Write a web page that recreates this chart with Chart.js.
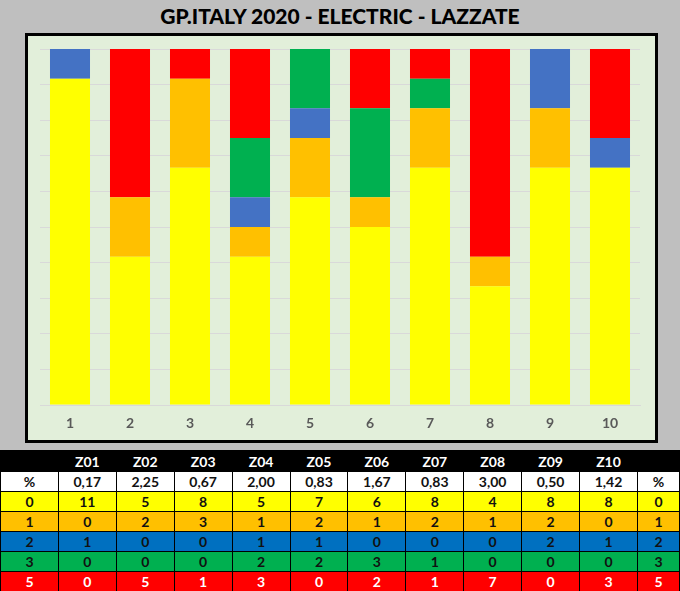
<!DOCTYPE html>
<html>
<head>
<meta charset="utf-8">
<script src="https://cdn.jsdelivr.net/npm/chart.js@4/dist/chart.umd.min.js"></script>
<style>
  html,body{margin:0;padding:0;}
  body{width:680px;height:591px;background:#BFBFBF;position:relative;overflow:hidden;font-family:Lato,"Open Sans",sans-serif;}
  #title{position:absolute;left:0;top:3px;width:680px;text-align:center;font-weight:900;font-size:21px;color:#000;}
  #box{position:absolute;left:25px;top:33px;width:627px;height:404px;border:3px solid #000;background:#E2EFDA;}
  #box canvas{display:block;}
  table{position:absolute;left:0;top:450px;border-collapse:collapse;table-layout:fixed;font-weight:bold;font-size:14px;}
  td{height:19px;padding:0;text-align:center;border:1px solid #000;color:#111;line-height:19px;}
  tr.hdr td{background:#000;color:#fff;border-color:#000;height:20px;}
</style>
</head>
<body>
<div id="title">GP.ITALY 2020 - ELECTRIC - LAZZATE</div>
<div id="box"><canvas id="c" width="627" height="404"></canvas></div>
<table id="tbl"></table>
<script>
const zones = ["Z01","Z02","Z03","Z04","Z05","Z06","Z07","Z08","Z09","Z10"];
const xLabels = ["1","2","3","4","5","6","7","8","9","10"];
const pctValues = ["0,17","2,25","0,67","2,00","0,83","1,67","0,83","3,00","0,50","1,42"];
const score0 = [11,5,8,5,7,6,8,4,8,8];
const score1 = [0,2,3,1,2,1,2,1,2,0];
const score2 = [1,0,0,1,1,0,0,0,2,1];
const score3 = [0,0,0,2,2,3,1,0,0,0];
const score5 = [0,5,1,3,0,2,1,7,0,3];

const rows = [
  {label:"0", data:score0, bar:"#FFFF00", cell:"#FFFF00", text:"#111"},
  {label:"1", data:score1, bar:"#FFC000", cell:"#FFC000", text:"#111"},
  {label:"2", data:score2, bar:"#4472C4", cell:"#0070C0", text:"#111"},
  {label:"3", data:score3, bar:"#00B050", cell:"#00B050", text:"#111"},
  {label:"5", data:score5, bar:"#FF0000", cell:"#FF0000", text:"#fff"}
];

const totals = zones.map((z,i)=>rows.reduce((s,r)=>s+r.data[i],0));

new Chart(document.getElementById('c'), {
  type:'bar',
  data:{
    labels:xLabels,
    datasets:rows.map(r=>({
      label:r.label,
      data:r.data.map((v,i)=>v/totals[i]*100),
      backgroundColor:r.bar,
      borderWidth:0,
      barPercentage:0.667,
      categoryPercentage:1.0
    }))
  },
  options:{
    responsive:false,
    animation:false,
    devicePixelRatio:1,
    layout:{padding:{left:12,right:15,top:13,bottom:0}},
    plugins:{legend:{display:false},tooltip:{enabled:false}},
    scales:{
      x:{
        stacked:true,
        grid:{display:false},
        border:{display:true,color:'#D9D9D9',width:1},
        ticks:{color:'#595959',font:{family:'Lato',size:14,weight:'bold'},padding:2},
        afterFit(s){s.height=35;}
      },
      y:{
        stacked:true,min:0,max:100,
        ticks:{display:false,stepSize:10},
        grid:{color:'#D9D9D9',drawTicks:false,lineWidth:1},
        border:{display:false},
        afterFit(s){s.width=0;}
      }
    }
  }
});

const tbl = document.getElementById('tbl');
const widths = [58,58,58,58,58,58,58,58,58,58,58,42];
let html = '<colgroup>'+widths.map(w=>`<col style="width:${w}px">`).join('')+'</colgroup>';
html += '<tr class="hdr"><td></td>'+zones.map(z=>`<td>${z}</td>`).join('')+'<td></td></tr>';
html += '<tr><td style="background:#fff">%</td>'+pctValues.map(p=>`<td style="background:#fff">${p}</td>`).join('')+'<td style="background:#fff">%</td></tr>';
rows.forEach(r=>{
  html += `<tr><td style="background:${r.cell};color:${r.text}">${r.label}</td>`+
    r.data.map(v=>`<td style="background:${r.cell};color:${r.text}">${v}</td>`).join('')+
    `<td style="background:${r.cell};color:${r.text}">${r.label}</td></tr>`;
});
tbl.innerHTML = html;
</script>
</body>
</html>
